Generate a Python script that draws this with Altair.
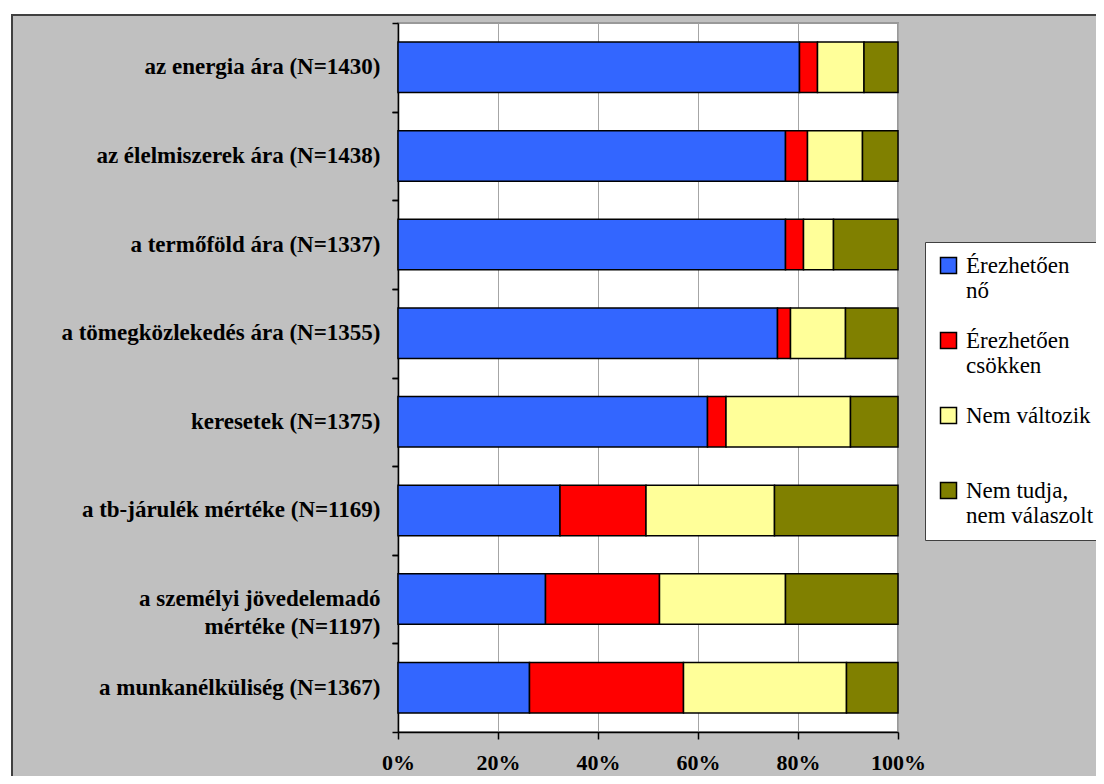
import altair as alt
import pandas as pd

categories = [
    "az energia ára (N=1430)",
    "az élelmiszerek ára (N=1438)",
    "a termőföld ára (N=1337)",
    "a tömegközlekedés ára (N=1355)",
    "keresetek (N=1375)",
    "a tb-járulék mértéke (N=1169)",
    "a személyi jövedelemadó mértéke (N=1197)",
    "a munkanélküliség (N=1367)",
]
series = ["Érezhetően nő", "Érezhetően csökken", "Nem változik", "Nem tudja, nem válaszolt"]
colors = ["#3366FF", "#FF0000", "#FFFF99", "#808000"]

novekszik = [80.3, 77.5, 77.5, 75.9, 61.9, 32.4, 29.5, 26.3]
csokken = [3.6, 4.4, 3.6, 2.6, 3.7, 17.2, 22.8, 30.8]
nem_valtozik = [9.3, 11.0, 6.0, 11.0, 24.9, 25.7, 25.2, 32.6]
nem_tudja = [6.8, 7.1, 12.9, 10.5, 9.5, 24.7, 22.5, 10.3]

x_ticks = [0, 0.2, 0.4, 0.6, 0.8, 1.0]

values_by_series = [novekszik, csokken, nem_valtozik, nem_tudja]
rows = []
for si, (s, vals) in enumerate(zip(series, values_by_series)):
    for c, v in zip(categories, vals):
        rows.append({"kategoria": c, "valasz": s, "ertek": v, "sorrend": si})
df = pd.DataFrame(rows)

SERIF = "Liberation Serif"
NB = "\u00a0"

y_label_expr = (
    "datum.label == 'a személyi jövedelemadó mértéke (N=1197)' ? "
    "['a személyi jövedelemadó" + NB * 3 + "', 'mértéke (N=1197)" + NB * 7 + "'] : datum.label"
)
legend_label_expr = (
    "datum.label == 'Érezhetően nő' ? ['Érezhetően', 'nő'] : "
    "datum.label == 'Érezhetően csökken' ? ['Érezhetően', 'csökken'] : "
    "datum.label == 'Nem változik' ? ['Nem változik', ''] : "
    "datum.label == 'Nem tudja, nem válaszolt' ? ['Nem tudja,', 'nem válaszolt'] : datum.label"
)

PAD_INNER = 0.43
PLOT_H = 709
half_gap = PAD_INNER * (PLOT_H / len(categories)) / 2

y_scale = alt.Scale(domain=categories, paddingInner=PAD_INNER, paddingOuter=PAD_INNER / 2)

y_axis = alt.Axis(
    title=None,
    labelExpr=y_label_expr,
    labelFont=SERIF,
    labelFontSize=23,
    labelFontWeight="bold",
    labelColor="black",
    labelLimit=500,
    labelPadding=18,
    labelLineHeight=28,
    ticks=False,
    tickSize=0,
    domainColor="black",
    domainWidth=1.5,
    grid=False,
    orient="left",
)


def tick_axis(band_pos, offset):
    return alt.Axis(
        title=None,
        labels=False,
        ticks=True,
        tickSize=6,
        tickColor="black",
        tickWidth=1.5,
        bandPosition=band_pos,
        tickOffset=offset,
        domain=False,
        grid=False,
        orient="left",
    )


x_axis = alt.Axis(
    title=None,
    format="%",
    values=x_ticks,
    labelFont=SERIF,
    labelFontSize=22,
    labelFontWeight="bold",
    labelColor="black",
    labelPadding=13,
    labelFlush=False,
    tickSize=7,
    tickColor="black",
    tickWidth=1.5,
    domainColor="black",
    domainWidth=1.5,
    grid=True,
    gridColor="#A6A6A6",
    gridWidth=1,
)

legend = alt.Legend(
    title=None,
    orient="none",
    legendX=527,
    legendY=219,
    labelExpr=legend_label_expr,
    labelFont=SERIF,
    labelFontSize=23,
    labelColor="black",
    labelLimit=400,
    labelOffset=6,
    symbolType="square",
    symbolSize=256,
    symbolStrokeColor="black",
    symbolStrokeWidth=1.5,
    fillColor="white",
    strokeColor="#404040",
    padding=12,
    rowPadding=26,
)

bars = (
    alt.Chart(df)
    .mark_bar(stroke="black", strokeWidth=1.5)
    .encode(
        y=alt.Y("kategoria:N", sort=categories, scale=y_scale, axis=y_axis),
        x=alt.X("ertek:Q", stack="normalize", scale=alt.Scale(domain=[0, 1]), axis=x_axis),
        color=alt.Color(
            "valasz:N",
            scale=alt.Scale(domain=series, range=colors),
            sort=series,
            legend=legend,
        ),
        order=alt.Order("sorrend:Q"),
    )
)


def ticks_layer(band_pos, offset):
    return (
        alt.Chart(df)
        .mark_bar(opacity=0)
        .encode(
            y=alt.Y("kategoria:N", sort=categories, scale=y_scale, axis=tick_axis(band_pos, offset)),
            x=alt.X("ertek:Q", stack="normalize"),
            order=alt.Order("sorrend:Q"),
        )
    )


frame_data = alt.Data(values=[{"f": 1}])
frame_white = (
    alt.Chart(frame_data)
    .mark_rect(filled=False, stroke="white", strokeWidth=14)
    .encode(
        x=alt.value(-393),
        x2=alt.value(900),
        y=alt.value(-15),
        y2=alt.value(900),
    )
)
frame_dark = (
    alt.Chart(frame_data)
    .mark_rect(filled=False, stroke="#404040", strokeWidth=2)
    .encode(
        x=alt.value(-386),
        x2=alt.value(900),
        y=alt.value(-8),
        y2=alt.value(900),
    )
)

chart = (
    alt.layer(
        frame_white,
        frame_dark,
        bars,
        ticks_layer(0, -half_gap),
        ticks_layer(1, half_gap),
    )
    .resolve_axis(y="independent")
    .properties(
        width=500,
        height=PLOT_H,
        autosize=alt.AutoSizeParams(type="none"),
        padding={"left": 390, "top": 15, "right": 198, "bottom": 44},
        background="#C0C0C0",
    )
    .configure_view(fill="white", stroke="#999999", strokeWidth=2)
)

chart.save("out.html", embed_options={"renderer": "svg", "actions": False})
